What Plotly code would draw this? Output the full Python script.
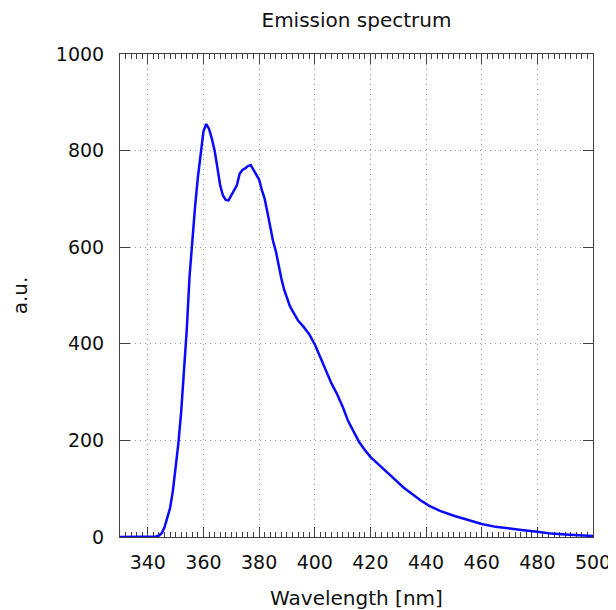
import plotly.graph_objects as go

wavelength = [330, 335, 340, 343, 344, 345, 346, 347, 348, 349, 350, 351, 352, 353, 354,
              355, 356, 357, 358, 359, 360, 361, 362, 363, 364, 365, 366, 367, 368, 369,
              370, 371, 372, 373, 374, 375, 376, 377, 378, 379, 380, 381, 382, 383, 384,
              385, 386, 387, 388, 389, 390, 391, 392, 394, 396, 398, 400, 402, 404, 406,
              408, 410, 412, 414, 416, 418, 420, 423, 426, 429, 432, 435, 438, 441, 445,
              450, 455, 460, 465, 470, 475, 480, 485, 490, 495, 500]
intensity = [0, 0, 0, 1, 3, 8, 20, 38, 60, 95, 140, 195, 260, 340, 430,
             540, 620, 685, 745, 795, 840, 855, 845, 825, 800, 765, 728, 707, 698, 697,
             708, 716, 728, 752, 760, 763, 768, 770, 760, 752, 740, 718, 700, 672, 642,
             613, 592, 560, 535, 512, 495, 479, 468, 448, 435, 420, 399, 373, 346, 318,
             296, 270, 240, 218, 196, 180, 166, 150, 134, 117, 102, 89, 76, 65, 54,
             44, 35, 27, 21, 17, 14, 11, 7, 5, 3, 2]

fig = go.Figure()
fig.add_trace(go.Scatter(
    x=wavelength,
    y=intensity,
    mode='lines',
    line=dict(color='#0a0aff', width=2.5),
    showlegend=False
))

tick_font = dict(family='DejaVu Sans, sans-serif', size=19, color='#111111')
title_font = dict(family='DejaVu Sans, sans-serif', size=20, color='#111111')
axis_common = dict(
    showline=True, linecolor='#404040', linewidth=1, mirror='allticks',
    ticks='inside', ticklen=10, tickcolor='#404040', tickwidth=1,
    showgrid=True, gridcolor='#999999', griddash='1px,4px', gridwidth=1,
    zeroline=False, layer='below traces', tickfont=tick_font,
    ticklabeloverflow='allow', automargin=False,
)

# page body has an 8px margin, figure is offset by that much
fig.update_layout(
    width=608, height=602,
    margin=dict(l=112, r=23, t=46, b=73, autoexpand=False),
    paper_bgcolor='white', plot_bgcolor='white',
    font=tick_font,
    title=dict(text='Emission spectrum', x=0.5, xref='paper', xanchor='center',
               y=0.98, yanchor='middle', font=title_font),
    xaxis=dict(axis_common, range=[330, 500], dtick=20, tick0=0, ticklabelstandoff=8,
               minor=dict(dtick=2, ticks='inside', ticklen=5, tickcolor='#404040', showgrid=False),
               title=dict(text='Wavelength [nm]', standoff=19, font=title_font)),
    yaxis=dict(axis_common, range=[0, 1000], dtick=200, ticklabelstandoff=11,
               title=dict(text='a.u.', standoff=24, font=title_font)),
)

fig.write_html("out.html")
